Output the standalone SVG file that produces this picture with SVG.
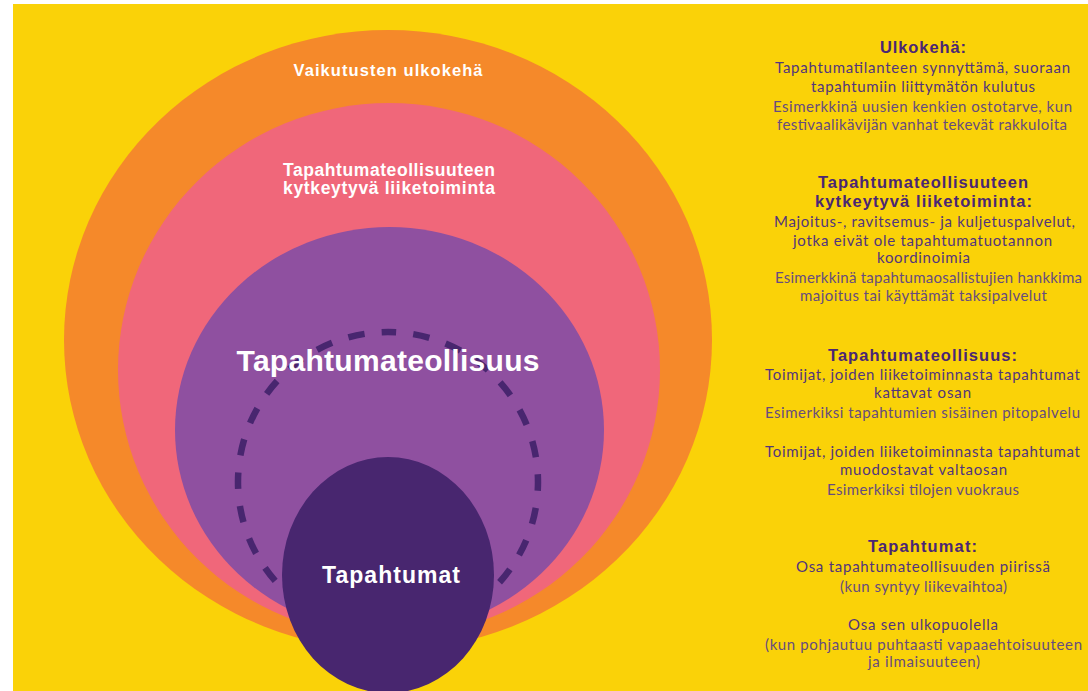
<svg xmlns="http://www.w3.org/2000/svg" width="1088" height="691" viewBox="0 0 1088 691">
<style>
.w{fill:#ffffff;font-family:"Liberation Sans",Arial,sans-serif;font-weight:bold;text-anchor:middle}
.h{fill:#4a2674;font-family:"Liberation Sans",Arial,sans-serif;font-weight:bold;font-size:16.5px;text-anchor:middle}
.d{fill:#52357d;font-family:Lato,"Noto Sans",sans-serif;font-size:15px;text-anchor:middle}
.e{fill:#674c7f;font-family:Lato,"Noto Sans",sans-serif;font-size:15px;text-anchor:middle}
</style>
<rect x="0" y="0" width="1088" height="691" fill="#ffffff"/>
<rect x="13" y="4" width="1075" height="687" fill="#fad208"/>
<g id="ulkokeha">
<ellipse cx="388" cy="340" rx="324" ry="310" fill="#f5892a"/>
<text class="w" x="388" y="76" font-size="16.5" textLength="189" lengthAdjust="spacing">Vaikutusten ulkokehä</text>
</g>
<g id="liiketoiminta">
<ellipse cx="389" cy="370" rx="271" ry="267" fill="#f0677a"/>
<text class="w" x="389" y="176" font-size="17.5" textLength="212" lengthAdjust="spacing">Tapahtumateollisuuteen</text>
<text class="w" x="389" y="194" font-size="17.5" textLength="212" lengthAdjust="spacing">kytkeytyvä liiketoiminta</text>
</g>
<g id="tapahtumateollisuus">
<ellipse cx="389.5" cy="430" rx="214.5" ry="203" fill="#8f50a0"/>
<path d="M388 332 A150 150 0 1 1 387.99 332" fill="none" stroke="#48266f" stroke-width="6.5" stroke-dasharray="16.5 17.2" stroke-dashoffset="8.25"/>
<text class="w" x="388" y="371" font-size="30" textLength="303" lengthAdjust="spacing">Tapahtumateollisuus</text>
</g>
<g id="tapahtumat">
<ellipse cx="388" cy="575" rx="106" ry="118" fill="#48266f"/>
<text class="w" x="391" y="583" font-size="23" textLength="138" lengthAdjust="spacing">Tapahtumat</text>
</g>
<g id="legend-ulkokeha">
<text class="h" x="923" y="53" textLength="86" lengthAdjust="spacing">Ulkokehä:</text>
<text class="d" x="922.5" y="73" textLength="295" lengthAdjust="spacing">Tapahtumatilanteen synnyttämä, suoraan</text>
<text class="d" x="923" y="92" textLength="224" lengthAdjust="spacing">tapahtumiin liittymätön kulutus</text>
<text class="e" x="922.5" y="112" textLength="299" lengthAdjust="spacing">Esimerkkinä uusien kenkien ostotarve, kun</text>
<text class="e" x="922" y="130" textLength="290" lengthAdjust="spacing">festivaalikävijän vanhat tekevät rakkuloita</text>
</g>
<g id="legend-liiketoiminta">
<text class="h" x="923" y="188" textLength="210" lengthAdjust="spacing">Tapahtumateollisuuteen</text>
<text class="h" x="923.5" y="207" textLength="217" lengthAdjust="spacing">kytkeytyvä liiketoiminta:</text>
<text class="d" x="924.5" y="227" textLength="301" lengthAdjust="spacing">Majoitus-, ravitsemus- ja kuljetuspalvelut,</text>
<text class="d" x="922.5" y="246" textLength="259" lengthAdjust="spacing">jotka eivät ole tapahtumatuotannon</text>
<text class="d" x="923.5" y="263" textLength="93" lengthAdjust="spacing">koordinoimia</text>
<text class="e" x="928.5" y="283" textLength="307" lengthAdjust="spacing">Esimerkkinä tapahtumaosallistujien hankkima</text>
<text class="e" x="923.5" y="301" textLength="247" lengthAdjust="spacing">majoitus tai käyttämät taksipalvelut</text>
</g>
<g id="legend-tapahtumateollisuus">
<text class="h" x="922.5" y="361" textLength="189" lengthAdjust="spacing">Tapahtumateollisuus:</text>
<text class="d" x="922.5" y="380" textLength="315" lengthAdjust="spacing">Toimijat, joiden liiketoiminnasta tapahtumat</text>
<text class="d" x="922.5" y="398" textLength="97" lengthAdjust="spacing">kattavat osan</text>
<text class="e" x="922.5" y="418" textLength="315" lengthAdjust="spacing">Esimerkiksi tapahtumien sisäinen pitopalvelu</text>
<text class="d" x="922.5" y="457" textLength="315" lengthAdjust="spacing">Toimijat, joiden liiketoiminnasta tapahtumat</text>
<text class="d" x="923.5" y="475" textLength="167" lengthAdjust="spacing">muodostavat valtaosan</text>
<text class="e" x="923" y="495" textLength="192" lengthAdjust="spacing">Esimerkiksi tilojen vuokraus</text>
</g>
<g id="legend-tapahtumat">
<text class="h" x="922.5" y="552" textLength="109" lengthAdjust="spacing">Tapahtumat:</text>
<text class="d" x="923" y="572" textLength="254" lengthAdjust="spacing">Osa tapahtumateollisuuden piirissä</text>
<text class="e" x="923.5" y="592" textLength="167" lengthAdjust="spacing">(kun syntyy liikevaihtoa)</text>
<text class="d" x="923" y="630" textLength="150" lengthAdjust="spacing">Osa sen ulkopuolella</text>
<text class="e" x="923.5" y="650" textLength="317" lengthAdjust="spacing">(kun pohjautuu puhtaasti vapaaehtoisuuteen</text>
<text class="e" x="924" y="667" textLength="112" lengthAdjust="spacing">ja ilmaisuuteen)</text>
</g>
</svg>
